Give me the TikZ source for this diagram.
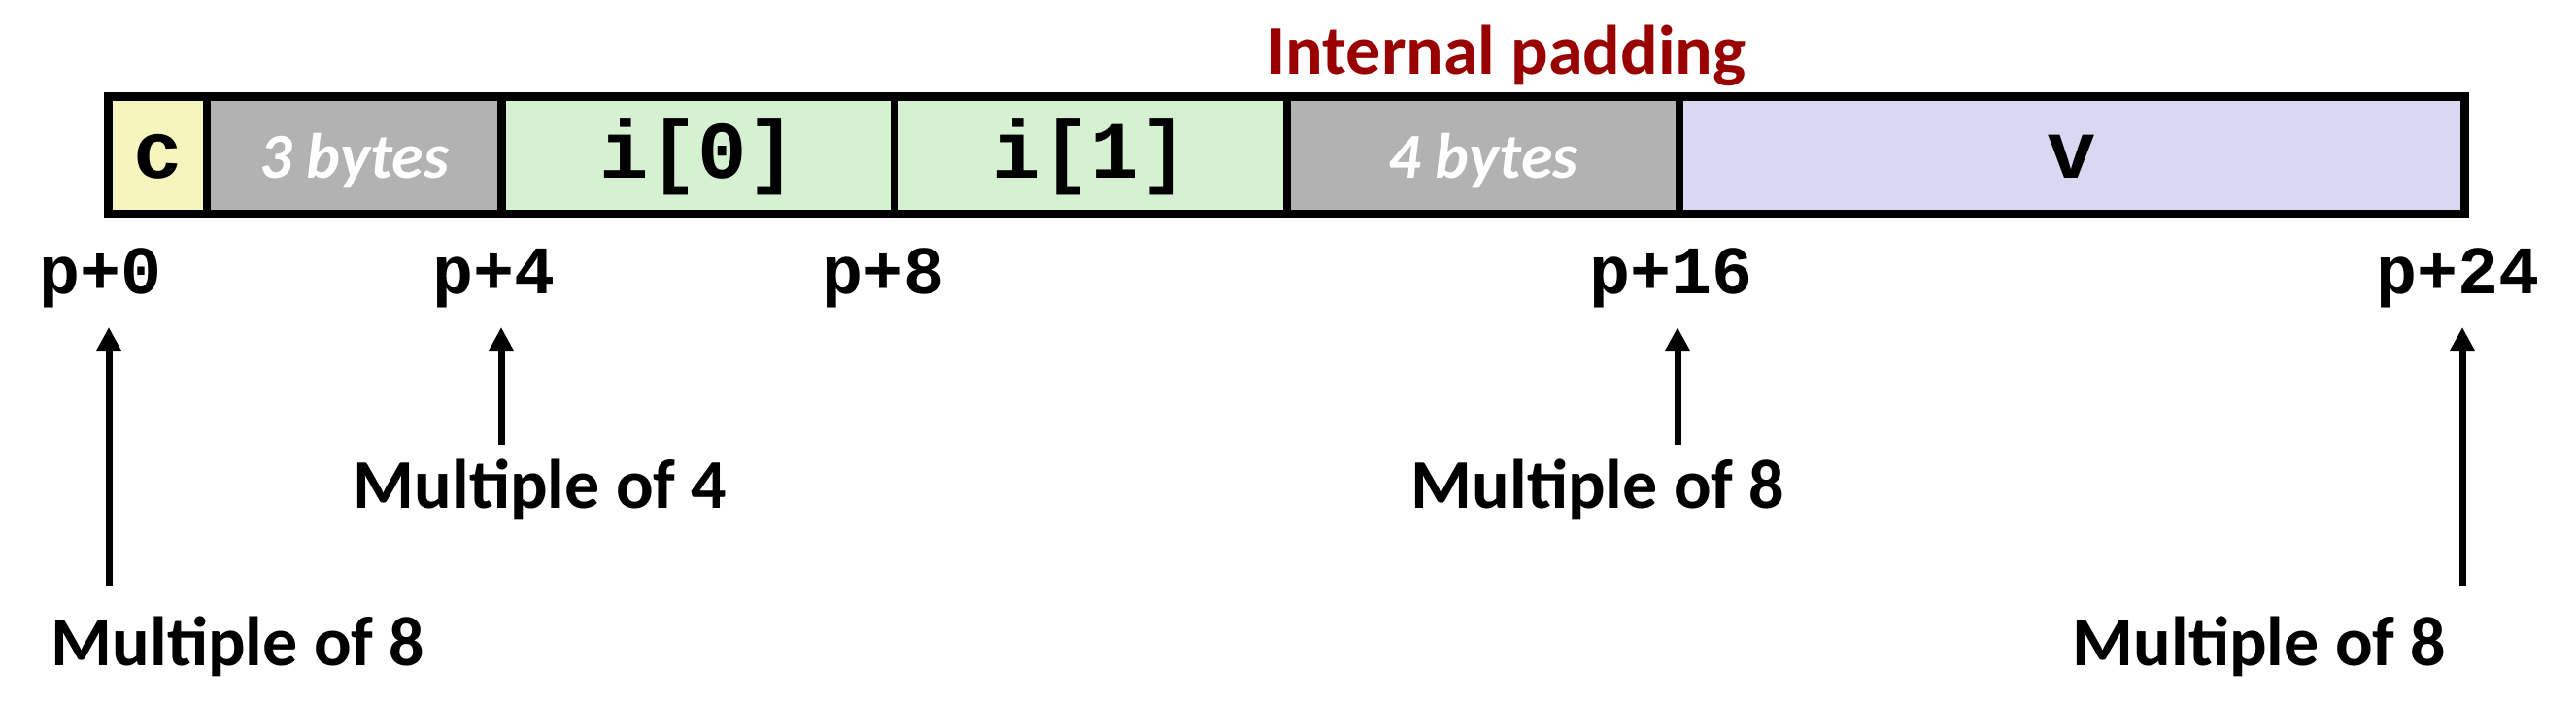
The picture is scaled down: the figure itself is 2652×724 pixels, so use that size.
\documentclass[tikz,border=0pt]{standalone}
\usepackage{fontspec}
\setsansfont{Carlito}
\setmonofont{Liberation Mono}
\usetikzlibrary{arrows.meta}
\definecolor{cyel}{HTML}{F6F5BE}
\definecolor{cgray}{HTML}{B2B2B2}
\definecolor{cgreen}{HTML}{D6F1D1}
\definecolor{cvio}{HTML}{D8D8F3}
\definecolor{cred}{HTML}{990000}
\tikzset{
  cell/.style={draw=black, line width=4pt, inner sep=0pt, outer sep=0pt,
    minimum height=60.5pt, text height=33.5pt, text depth=10pt,
    font=\fontsize{42pt}{48pt}\selectfont\ttfamily\bfseries},
  padcell/.style={cell, fill=cgray, text=white,
    font=\fontsize{33pt}{40pt}\selectfont\sffamily\bfseries\itshape},
  addr/.style={anchor=base, inner sep=0pt, font=\fontsize{35pt}{40pt}\selectfont\ttfamily\bfseries},
  note/.style={anchor=base, inner sep=0pt, font=\fontsize{36pt}{42pt}\selectfont\sffamily\bfseries},
  arr/.style={line width=3.5pt, -{Triangle[length=12pt, width=12pt]}}
}
\begin{document}
\begin{tikzpicture}[x=0.5pt, y=-0.5pt]
\useasboundingbox (0,0) rectangle (2652,724);
% cells (1 byte = 101.04 px)
\node[cell, fill=cyel, minimum width=50.52pt] (c) at (162.5,159.5) {c};
\node[padcell, minimum width=151.56pt] (pad3) at (364.6,159.5) {3 bytes};
\node[cell, fill=cgreen, minimum width=202.08pt] (i0) at (718.7,159.5) {i[0]};
\node[cell, fill=cgreen, minimum width=202.08pt] (i1) at (1122.8,159.5) {i[1]};
\node[padcell, minimum width=202.08pt] (pad4) at (1526.9,159.5) {4 bytes};
\node[cell, fill=cvio, minimum width=404.16pt] (v) at (2133,159.5) {v};
\draw[line width=4.5pt] (c.north west) rectangle (v.south east);
% title
\node[note, text=cred] (ip) at (1551,76) {Internal padding};
% addresses
\node[addr] (p0) at (104,302) {p+0};
\node[addr] (p4) at (509,302) {p+4};
\node[addr] (p8) at (910,302) {p+8};
\node[addr] (p16) at (1720,302) {p+16};
\node[addr] (p24) at (2530,302) {p+24};
% notes
\node[note] (m0) at (245,685) {Multiple of 8};
\node[note] (m4) at (556,523) {Multiple of 4};
\node[note] (m16) at (1645,523) {Multiple of 8};
\node[note] (m24) at (2326,685) {Multiple of 8};
% arrows
\coordinate (a0s) at (112,603); \coordinate (a0e) at (112,337);
\coordinate (a4s) at (516,458); \coordinate (a4e) at (516,337);
\coordinate (a16s) at (1727,458); \coordinate (a16e) at (1727,337);
\coordinate (a24s) at (2535,603); \coordinate (a24e) at (2535,337);
\draw[arr] (a0s) -- (a0e);
\draw[arr] (a4s) -- (a4e);
\draw[arr] (a16s) -- (a16e);
\draw[arr] (a24s) -- (a24e);
\end{tikzpicture}
\end{document}
